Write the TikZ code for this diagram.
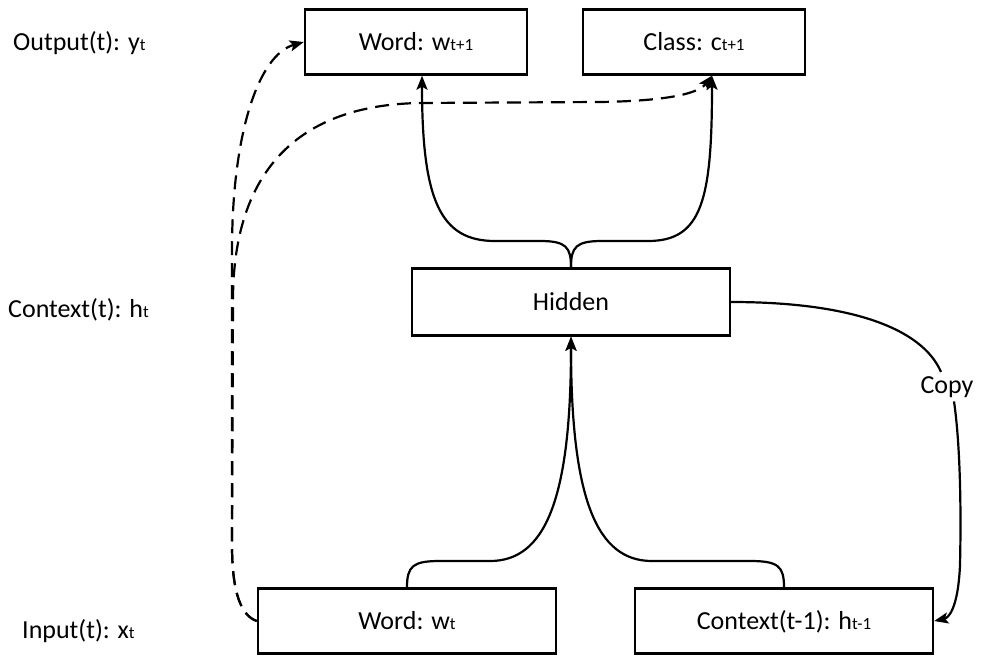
\documentclass[tikz,border=0pt]{standalone}
\usepackage{fontspec}
\setmainfont{Carlito}
\usetikzlibrary{arrows.meta,calc}
% smaller index letters set on the same baseline
\newcommand\idx[1]{{\fontsize{17}{19}\selectfont #1}}
\begin{document}
\begin{tikzpicture}[x=1pt,y=-1pt,
  every node/.style={font=\fontsize{26}{30}\selectfont},
  unit/.style={draw, line width=2.4pt, minimum height=65pt, inner sep=0pt,
    text height=17pt, text depth=0pt},
  conn/.style={line width=2.2pt, -{Stealth[length=14pt,width=11pt,inset=3pt]}},
  feed/.style={conn, dash pattern=on 14pt off 8pt},
  side/.style={anchor=base west, inner sep=0pt}]
\useasboundingbox (0,0) rectangle (982,656);

% layers
\node[unit, minimum width=222pt] (wout) at (416,42) {Word: w\idx{t+1}};
\node[unit, minimum width=222pt] (cout) at (694,42) {Class: c\idx{t+1}};
\node[unit, minimum width=318pt, minimum height=67pt] (hid) at (571,302) {Hidden};
\node[unit, minimum width=298pt] (win) at (407,621) {Word: w\idx{t}};
\node[unit, minimum width=298pt] (ctx) at (784,621) {Context(t-1): h\idx{t-1}};

% row captions
\node[side] (lout) at (13,50) {Output(t): y\idx{t}};
\node[side] (lctx) at (8,317) {Context(t): h\idx{t}};
\node[side] (lin) at (22,638) {Input(t): x\idx{t}};
\node[anchor=base, inner sep=4pt] (copy) at (947,393) {Copy};

% hidden -> outputs
\draw[conn] (hid.north) .. controls (571,247) and (566,241) .. (540,241) -- (495,241)
  .. controls (440,241) and (422,200) .. ([xshift=6pt]wout.south);
\draw[conn] (hid.north) .. controls (571,247) and (576,241) .. (602,241) -- (648,241)
  .. controls (702,241) and (712,200) .. ([xshift=18pt]cout.south);

% inputs -> hidden
\draw[conn] (win.north) .. controls (407,566) and (413,561) .. (440,561) -- (490,561)
  .. controls (545,561) and (571,500) .. (hid.south);
\draw[conn] (ctx.north) .. controls (784,566) and (778,561) .. (750,561) -- (652,561)
  .. controls (597,561) and (571,500) .. (hid.south);

% copy of the hidden state
\draw[line width=2.2pt] (hid.east) .. controls (850,302) and (922,328) .. ([xshift=-6pt]copy.north);
\draw[conn] ([xshift=7pt]copy.south) .. controls (961,450) and (961,520) .. (960,565)
  .. controls (958,610) and (948,618) .. (ctx.east);

% direct input -> output links
\draw[feed] (win.west) .. controls (242,616) and (232,595) .. (232,545) -- (232,250)
  .. controls (232,135) and (258,55) .. (wout.west);
\draw[feed] (win.west) .. controls (242,616) and (232,595) .. (232,545) -- (233,300)
  .. controls (233,180) and (290,105) .. (420,103) -- (600,102)
  .. controls (665,101) and (698,94) .. ([xshift=18pt]cout.south);
\end{tikzpicture}
\end{document}
